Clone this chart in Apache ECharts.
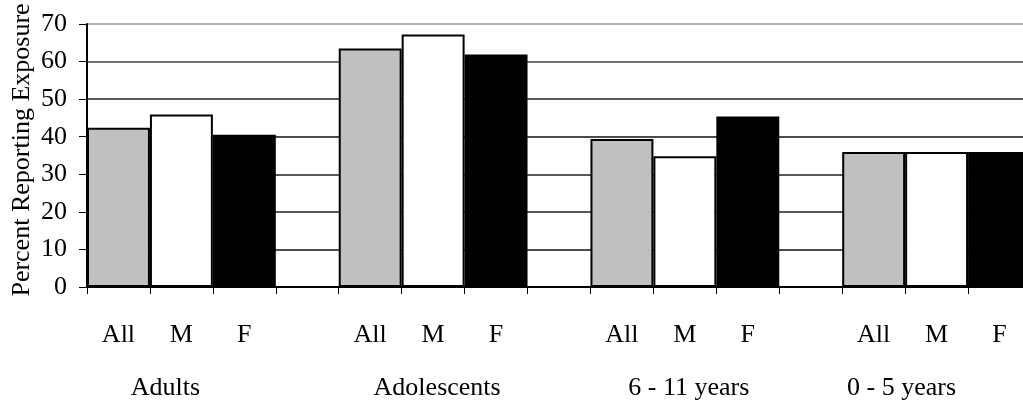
<!DOCTYPE html>
<html>
<head>
<meta charset="utf-8">
<script src="https://cdn.jsdelivr.net/npm/echarts@6/dist/echarts.min.js"></script>
<style>html,body{margin:0;padding:0;background:#fff;}#c{width:1023px;height:407px;}</style>
</head>
<body>
<div id="c"></div>
<script>
var groups = ['Adults', 'Adolescents', '6 - 11 years', '0 - 5 years'];
var subgroups = ['All', 'M', 'F'];
var allValues = [42.4, 63.5, 39.4, 35.9];
var mValues = [45.9, 67.2, 34.8, 35.9];
var fValues = [40.5, 61.9, 45.4, 35.9];
var yTicks = [0, 10, 20, 30, 40, 50, 60, 70];
var colors = ['#c0c0c0', '#ffffff', '#000000'];
// group label shift (px, negative = left)
var groupShift = [-16, 4, 4, -35];

var cats = [], groupCats = [], data = [];
var series3 = [allValues, mValues, fValues];
for (var g = 0; g < groups.length; g++) {
  for (var s = 0; s < 3; s++) {
    cats.push(subgroups[s] + '#' + g);
    var sh = groupShift[g];
    if (s === 1) {
      groupCats.push({value: groups[g], textStyle: {padding: sh < 0 ? [0, -2 * sh, 0, 0] : [0, 0, 0, 2 * sh]}});
    } else {
      groupCats.push('');
    }
    data.push({value: series3[s][g], itemStyle: {color: colors[s]}});
  }
  if (g < groups.length - 1) {
    cats.push('gap' + g);
    groupCats.push('');
    data.push(null);
  }
}

var chart = echarts.init(document.getElementById('c'));
chart.setOption({
  animation: false,
  grid: {left: 87, right: -8, top: 24, bottom: 120, containLabel: false, outerBoundsMode: 'none'},
  xAxis: [{
    type: 'category',
    data: cats,
    axisLine: {show: true, lineStyle: {color: '#000', width: 2}},
    axisTick: {show: true, alignWithLabel: false, length: 7, lineStyle: {color: '#000', width: 1}},
    axisLabel: {
      interval: 0, margin: 35,
      fontFamily: 'Liberation Serif', fontSize: 26, color: '#000',
      formatter: function (v) { return v.indexOf('gap') === 0 ? '' : v.split('#')[0]; }
    }
  }, {
    type: 'category',
    data: groupCats,
    position: 'bottom',
    axisLine: {show: false},
    axisTick: {show: false},
    axisLabel: {interval: 0, margin: 88, fontFamily: 'Liberation Serif', fontSize: 26, color: '#000'}
  }],
  yAxis: {
    type: 'value', min: 0, max: 70, interval: 10,
    name: 'Percent Reporting Exposure',
    nameLocation: 'middle', nameGap: 52, nameRotate: 90, nameMoveOverlap: false,
    nameTextStyle: {fontFamily: 'Liberation Serif', fontSize: 26, color: '#000', padding: [0, 0, 0, 11]},
    axisLine: {show: true, lineStyle: {color: '#000', width: 2}},
    axisTick: {show: true, length: 8, lineStyle: {color: '#000'}},
    axisLabel: {margin: 20, fontFamily: 'Liberation Serif', fontSize: 26, color: '#000',
      formatter: function (v) { return yTicks.indexOf(v) >= 0 ? String(v) : ''; }},
    splitLine: {show: true, lineStyle: {color: ['#000', '#111', '#222', '#222', '#111', '#222', '#444', '#999'], width: 1.5}}
  },
  series: [{
    type: 'bar',
    xAxisIndex: 0,
    data: data,
    barWidth: '100%',
    itemStyle: {borderColor: '#000', borderWidth: 2}
  }]
});
</script>
</body>
</html>
